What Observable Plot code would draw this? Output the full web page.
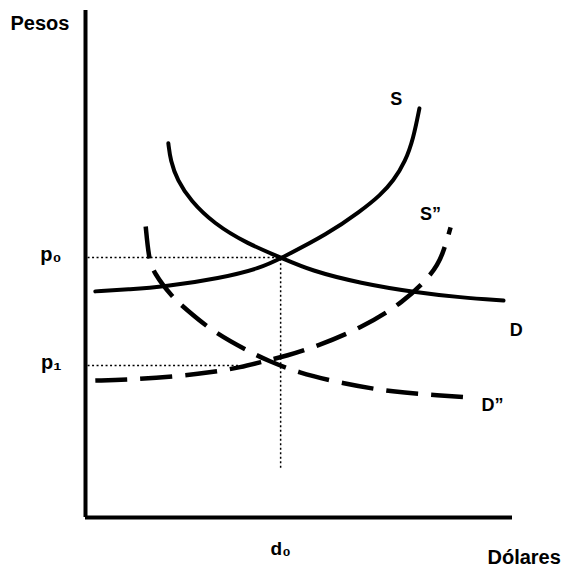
<!DOCTYPE html>
<html>
<head>
<meta charset="utf-8">
<script src="https://cdn.jsdelivr.net/npm/d3@7"></script>
<script src="https://cdn.jsdelivr.net/npm/@observablehq/plot@0.6"></script>
<style>
  html, body { margin: 0; padding: 0; background: #fff; }
</style>
</head>
<body>
<div id="chart"></div>
<script>
// Curves (x = dólares, y = pesos, both on a 0–100 scale)
const S_x  = [2.3, 10.5, 18.3, 31.6, 41.0, 45.7, 56.7, 64.4, 69.1, 72.1, 74.9, 76.8, 78.2];
const S_y  = [44.6, 45.0, 45.5, 47.2, 49.2, 51.1, 55.9, 60.4, 63.6, 66.4, 70.2, 74.8, 80.7];

const D_x  = [19.4, 19.9, 21.5, 24.6, 30.0, 37.9, 45.7, 52.7, 64.4, 77.3, 87.8, 97.9];
const D_y  = [73.8, 70.4, 66.5, 62.5, 58.0, 54.0, 51.3, 48.7, 46.2, 44.4, 43.4, 42.8];

const S2_x = [2.3, 10.5, 20.6, 29.3, 36.3, 42.6, 46.8, 54.3, 64.4, 74.5, 81.5, 83.6, 85.5];
const S2_y = [27.0, 27.2, 27.8, 28.6, 29.6, 31.0, 31.8, 33.8, 37.3, 42.4, 48.3, 51.7, 57.2];

const D2_x = [14.1, 14.8, 15.9, 20.4, 23.4, 30.0, 39.3, 42.6, 49.6, 60.4, 72.1, 83.1, 89.5];
const D2_y = [57.4, 51.3, 48.3, 43.4, 41.2, 36.5, 32.3, 31.0, 28.6, 26.4, 24.7, 24.1, 23.7];

// Equilibrium values and tick labels
const p0 = 51.3, p1 = 30.0, d0 = 45.7, p1End = 36.3, d0Bottom = 9.7;
const priceTicks = [p0, p1];
const priceTickLabels = ["p\u2080", "p\u2081"];
const quantityTicks = [d0];
const quantityTickLabels = ["d\u2080"];

// Curve labels
const curveLabels = ["S", "S\u201D", "D", "D\u201D"];
const curveLabelX = [72.8, 80.8, 100.9, 95.3];
const curveLabelY = [82.4, 59.8, 36.9, 22.1];

const zip = (xs, ys) => xs.map((x, i) => ({x, y: ys[i]}));
const S = zip(S_x, S_y), D = zip(D_x, D_y), S2 = zip(S2_x, S2_y), D2 = zip(D2_x, D2_y);
const labels = curveLabels.map((t, i) => ({t, x: curveLabelX[i], y: curveLabelY[i]}));

const font = "'Liberation Sans', Arial, Helvetica, sans-serif";
const bold = {fontFamily: font, fontWeight: "bold", fill: "black"};

const chart = Plot.plot({
  width: 565,
  height: 567,
  marginLeft: 85,
  marginRight: 53,
  marginTop: 10,
  marginBottom: 50,
  style: {background: "white", fontFamily: font, overflow: "visible"},
  x: {domain: [0, 100], axis: null},
  y: {domain: [0, 100], axis: null},
  marks: [
    // dotted guides
    Plot.ruleY([p0], {x1: 0.6, x2: d0, stroke: "black", strokeWidth: 1.5, strokeDasharray: "2,2.5"}),
    Plot.ruleY([p1], {x1: 0.6, x2: p1End, stroke: "black", strokeWidth: 1.5, strokeDasharray: "2,2.5"}),
    Plot.ruleX([d0], {y1: d0Bottom, y2: p0, stroke: "black", strokeWidth: 1.5, strokeDasharray: "2,2.5"}),
    // curves
    Plot.line(S, {x: "x", y: "y", curve: "basis", stroke: "black", strokeWidth: 4, strokeLinecap: "round"}),
    Plot.line(D, {x: "x", y: "y", curve: "basis", stroke: "black", strokeWidth: 4, strokeLinecap: "round"}),
    Plot.line(S2, {x: "x", y: "y", curve: "basis", stroke: "black", strokeWidth: 4.5, strokeDasharray: "32,13", strokeLinecap: "butt"}),
    Plot.line(D2, {x: "x", y: "y", curve: "basis", stroke: "black", strokeWidth: 4.5, strokeDasharray: "32,13", strokeLinecap: "butt"}),
    // axes lines
    Plot.ruleX([0], {y1: 0, y2: 100, stroke: "black", strokeWidth: 4}),
    Plot.ruleY([0], {x1: 0, x2: 100, stroke: "black", strokeWidth: 4}),
    // tick labels
    Plot.axisY({ticks: priceTicks, tickFormat: (d) => priceTickLabels[priceTicks.indexOf(d)], tickSize: 0, tickPadding: 24, fontSize: 20, fontWeight: "bold", fontFamily: font, dy: -3, label: null}),
    Plot.axisX({ticks: quantityTicks, tickFormat: (d) => quantityTickLabels[quantityTicks.indexOf(d)], tickSize: 0, tickPadding: 24, fontSize: 19, fontWeight: "bold", fontFamily: font, label: null}),
    // curve labels
    Plot.text(labels, {x: "x", y: "y", text: "t", fontSize: 18, ...bold}),
    // axis titles
    Plot.text(["Pesos"], {frameAnchor: "top-left", textAnchor: "start", lineAnchor: "top", dx: -75, dy: 5, fontSize: 20, ...bold}),
    Plot.text(["Dólares"], {frameAnchor: "bottom-right", textAnchor: "start", lineAnchor: "top", dx: -25, dy: 32, fontSize: 20, ...bold})
  ]
});
document.getElementById("chart").appendChild(chart);
</script>
</body>
</html>
